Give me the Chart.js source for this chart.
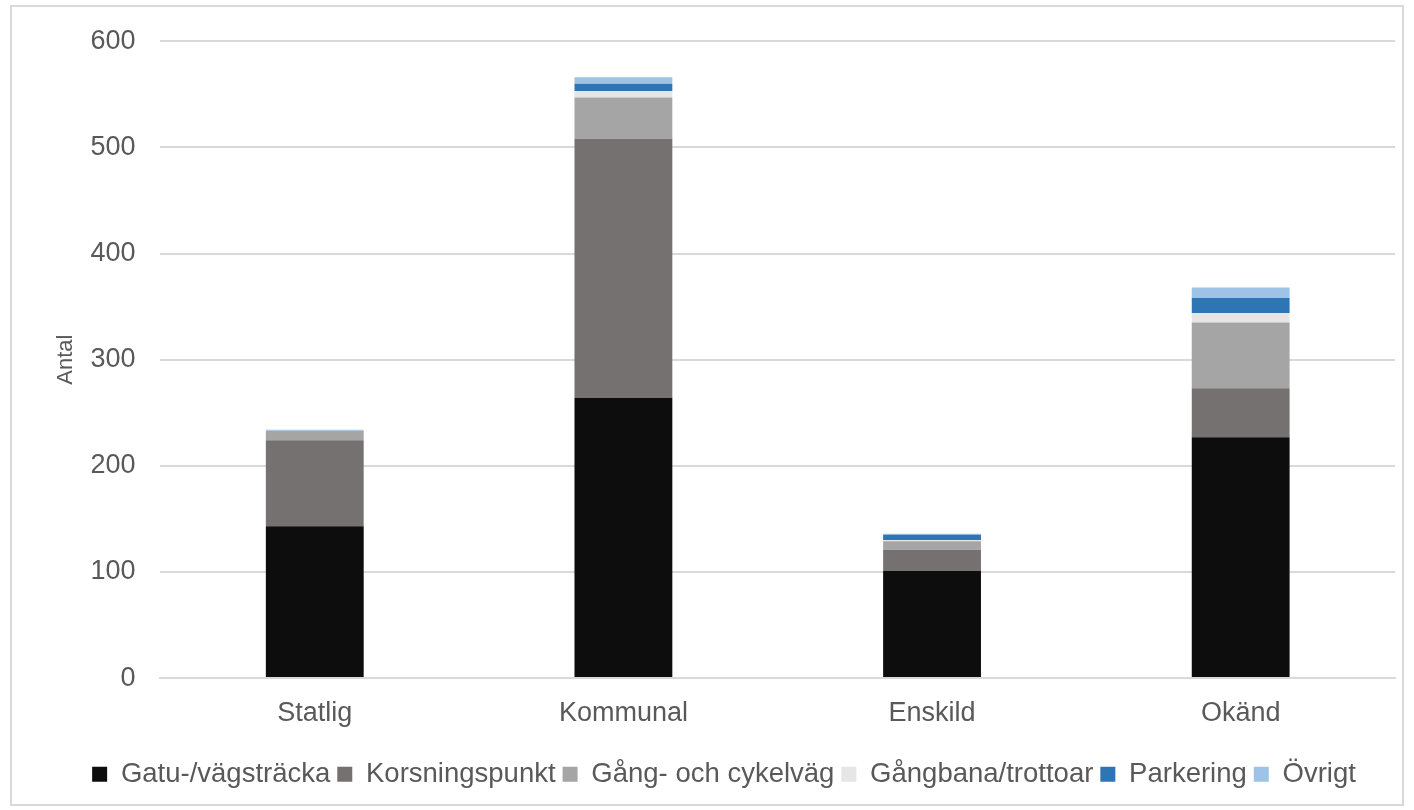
<!DOCTYPE html>
<html>
<head>
<meta charset="utf-8">
<script src="https://cdn.jsdelivr.net/npm/chart.js@4/dist/chart.umd.min.js"></script>
<style>
    html, body { margin: 0; padding: 0; background: #fff; }
    #frame {
        position: absolute; left: 10px; top: 5px;
        width: 1394px; height: 801px;
        border: 2px solid #d9d9d9; box-sizing: border-box;
    }
    #wrap { position: absolute; left: 0; top: 0; width: 1414px; height: 810px; }
</style>
</head>
<body>
<div id="frame"></div>
<div id="wrap"><canvas id="myChart"></canvas></div>
<script>
const categories = ["Statlig", "Kommunal", "Enskild", "Okänd"];
const seriesNames = ["Gatu-/vägsträcka", "Korsningspunkt", "Gång- och cykelväg", "Gångbana/trottoar", "Parkering", "Övrigt"];
const gatu = [143, 264, 101, 227];
const korsning = [81, 244, 20, 46];
const gangCykel = [9, 39, 8, 62];
const gangbana = [0, 6, 1, 9];
const parkering = [0, 7, 5, 14];
const ovrigt = [1, 6, 1, 10];
const yTicks = [0, 100, 200, 300, 400, 500, 600];

const colors = ["#0d0d0d", "#767171", "#a5a5a5", "#e7e6e6", "#2e75b6", "#9dc3e6"];
const values = [gatu, korsning, gangCykel, gangbana, parkering, ovrigt];
const fontFamily = "Liberation Sans, Arial";

const printChart = () => {
    const ctx = document.getElementById("myChart").getContext("2d");
    const chart = new Chart(ctx, {
        type: "bar",
        data: {
            labels: categories,
            datasets: seriesNames.map((name, i) => ({
                label: name,
                data: values[i],
                backgroundColor: colors[i],
                borderWidth: 0,
                barPercentage: 1,
                categoryPercentage: 0.317,
            })),
        },
        options: {
            responsive: true,
            maintainAspectRatio: false,
            animation: false,
            layout: { padding: { left: 53, right: 19, top: 24, bottom: 12 } },
            plugins: {
                tooltip: { enabled: false },
                legend: {
                    position: "bottom",
                    labels: {
                        boxWidth: 15,
                        boxHeight: 15,
                        padding: 7,
                        color: "#595959",
                        font: { family: fontFamily, size: 27.5 },
                    },
                },
            },
            scales: {
                x: {
                    stacked: true,
                    grid: { display: false },
                    border: { color: "#d9d9d9", width: 2 },
                    afterFit: scale => {
                        scale.height += 13;
                    },
                    ticks: {
                        color: "#595959",
                        padding: 11,
                        font: { family: fontFamily, size: 27 },
                    },
                },
                y: {
                    stacked: true,
                    min: 0,
                    max: 600,
                    afterBuildTicks: axis => {
                        axis.ticks = yTicks.map(v => ({ value: v }));
                    },
                    grid: { color: "#d9d9d9", lineWidth: 2, drawTicks: false },
                    border: { display: false },
                    ticks: {
                        color: "#595959",
                        padding: 25,
                        font: { family: fontFamily, size: 27 },
                    },
                    title: {
                        display: true,
                        text: "Antal",
                        color: "#595959",
                        padding: { top: 0, bottom: -14 },
                        font: { family: fontFamily, size: 22 },
                    },
                },
            },
        },
    });
};

printChart();
</script>
</body>
</html>
